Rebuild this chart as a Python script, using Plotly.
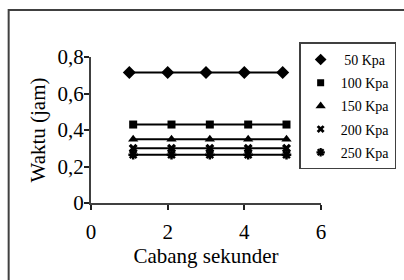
import plotly.graph_objects as go

# ---- data ----
series_names = ["\u00a050 Kpa", "100 Kpa", "150 Kpa", "200 Kpa", "250 Kpa"]
x_50 = [1, 2, 3, 4, 5]
x_other = [1.1, 2.1, 3.1, 4.1, 5.1]
y_50 = [0.715, 0.715, 0.715, 0.715, 0.715]
y_100 = [0.43, 0.43, 0.43, 0.43, 0.43]
y_150 = [0.35, 0.35, 0.35, 0.35, 0.35]
y_200 = [0.30, 0.30, 0.30, 0.30, 0.30]
y_250 = [0.265, 0.265, 0.265, 0.265, 0.265]
x_ticks = [0, 2, 4, 6]
y_ticks = [0, 0.2, 0.4, 0.6, 0.8]

xs = [x_50, x_other, x_other, x_other, x_other]
ys = [y_50, y_100, y_150, y_200, y_250]
symbols = ["diamond", "square", "triangle-up", "x", "asterisk-open"]
sizes = [10, 8, 9, 8, 8]
leg_sizes = [9, 7, 9, 7, 7]

FONT = "Liberation Serif"
fig = go.Figure()
for i in range(5):
    line_w = 2.5 if symbols[i] == "asterisk-open" else 0
    fig.add_trace(go.Scatter(
        x=xs[i], y=ys[i], mode="lines+markers", showlegend=False,
        line=dict(color="black", width=2),
        marker=dict(symbol=symbols[i], size=sizes[i], color="black",
                    line=dict(color="black", width=line_w)),
        cliponaxis=False,
    ))
for i in range(5):
    line_w = 2.2 if symbols[i] == "asterisk-open" else 0
    fig.add_trace(go.Scatter(
        x=[None], y=[None], mode="markers", name=series_names[i],
        legendgroup="g%d" % i,
        marker=dict(symbol=symbols[i], size=leg_sizes[i], color="black",
                    line=dict(color="black", width=line_w)),
    ))

fig.update_layout(
    width=404, height=280,
    margin=dict(l=90.5, r=83, t=57, b=76.7, autoexpand=False),
    paper_bgcolor="white", plot_bgcolor="white",
    separators=",.",
    font=dict(family=FONT, color="black", size=21),
    showlegend=True,
    legend=dict(
        x=0.905, y=1.10, xanchor="left", yanchor="top",
        bordercolor="#404040", borderwidth=1.5, bgcolor="white",
        font=dict(family=FONT, size=14, color="black"),
        tracegroupgap=2, itemwidth=30,
    ),
    xaxis=dict(
        range=[0, 6], tickvals=x_ticks, showgrid=False, zeroline=False,
        showline=True, linecolor="#404040", linewidth=2,
        ticks="outside", ticklen=5, tickwidth=2, tickcolor="#202020",
        ticklabelstandoff=4, automargin=False,
        title=dict(text="Cabang sekunder", font=dict(size=21, family=FONT), standoff=3),
    ),
    yaxis=dict(
        range=[0, 0.8], tickvals=y_ticks, showgrid=False, zeroline=False,
        showline=True, linecolor="#404040", linewidth=2,
        ticks="outside", ticklen=5, tickwidth=2, tickcolor="#202020",
        ticklabelstandoff=-4, automargin=False,
        title=dict(text="Waktu (jam)", font=dict(size=21, family=FONT), standoff=6),
    ),
    shapes=[dict(type="rect", xref="paper", yref="paper",
                 x0=-0.358, x1=1.5, y0=-1.0, y1=1.322,
                 line=dict(color="#404040", width=2), layer="below")],
)

fig.write_html("out.html", config={"displayModeBar": False},
               post_script="document.body.style.margin='0px';document.body.style.padding='0px';")
